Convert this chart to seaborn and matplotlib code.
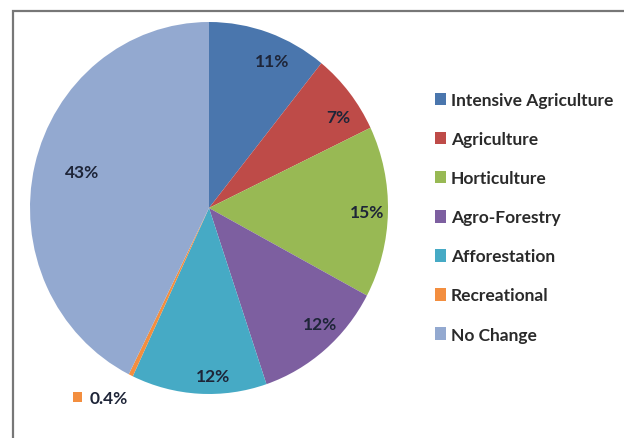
import matplotlib
matplotlib.use("Agg")
import matplotlib.pyplot as plt
import seaborn as sns
import numpy as np
from matplotlib.patches import Rectangle

categories = ["Intensive Agriculture", "Agriculture", "Horticulture", "Agro-Forestry",
              "Afforestation", "Recreational", "No Change"]
values = [10.8, 7.1, 14.9, 12.0, 12.2, 0.4, 42.6]
colors = ["#4A76AD", "#BE4B48", "#98B954", "#7D5FA0", "#46AAC5", "#F38E3F", "#93A9D0"]

sns.set_style("white")
plt.rcParams["font.family"] = ["Lato", "DejaVu Sans"]

W, H = 624, 439
fig = plt.figure(figsize=(W / 100, H / 100), dpi=100)

# frame (left and top lines visible)
fig.add_artist(Rectangle((13 / W, -0.1), 1.2, 1 - 12 / H + 0.1, transform=fig.transFigure,
                         fill=False, edgecolor="#777777", linewidth=1.6))

cx, cy, rx, ry = 209, 209, 179, 186
ax = fig.add_axes([(cx - rx) / W, 1 - (cy + ry) / H, 2 * rx / W, 2 * ry / H])


def fmt(p):
    return f"{p:.1f}%" if p < 1 else f"{p:.0f}%"


wedges, texts, autotexts = ax.pie(
    values, colors=colors, startangle=90, counterclock=False,
    autopct=fmt, pctdistance=0.87, radius=1.0,
    wedgeprops=dict(linewidth=0),
    textprops=dict(fontsize=12.5, fontweight="bold", color="#1E2538"))
ax.set_aspect("auto")
ax.set_xlim(-1, 1)
ax.set_ylim(-1, 1)
ax.axis("off")

# label placement: (distance from centre, angle shift in degrees) per slice
label_place = [(0.865, 4.6), (0.871, 4.2), (0.883, 0.0), (0.88, -4.5),
               (0.903, -4.7), None, (0.735, 2.0)]
for w, t, lp in zip(wedges, autotexts, label_place):
    if lp is None:
        continue
    r, dth = lp
    mid = np.deg2rad((w.theta1 + w.theta2) / 2 - dth)
    t.set_position((r * np.cos(mid), r * np.sin(mid)))

# small slice label outside with key
ri = categories.index("Recreational")
t = autotexts[ri]
t.set_position(((90 - cx) / rx, -(399 - cy) / ry))
t.set_ha("left")
t.set_va("center")
t.set_clip_on(False)
ax.add_patch(Rectangle(((72.5 - cx) / rx, -(403 - cy) / ry), 9 / rx, 10 / ry,
                       facecolor=colors[ri], edgecolor="none", clip_on=False))

leg = ax.legend(wedges, categories, loc="upper left",
                bbox_to_anchor=(435 / W, 1 - 93 / H), bbox_transform=fig.transFigure,
                frameon=False, fontsize=12.5, handlelength=0.62, handleheight=0.75,
                handletextpad=0.3, labelspacing=1.33, borderaxespad=0, borderpad=0)
for tx in leg.get_texts():
    tx.set_fontweight("bold")
    tx.set_color("#2A2A2A")

fig.savefig("out.png", dpi=100)
